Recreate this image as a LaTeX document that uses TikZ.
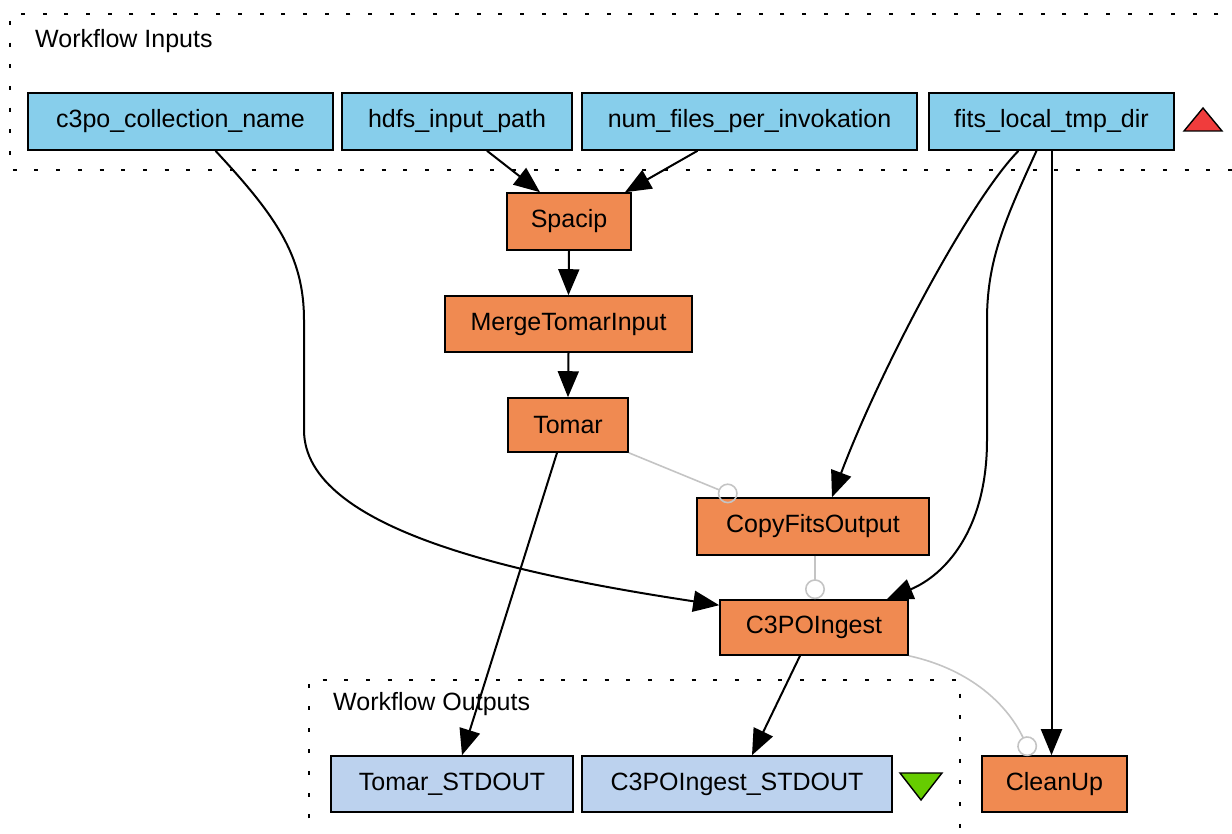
\documentclass[tikz,border=0pt]{standalone}
\usepackage{fontspec}
\setmainfont{Liberation Sans}
\usetikzlibrary{arrows.meta}
\definecolor{inblue}{HTML}{87CEEB}
\definecolor{outblue}{HTML}{BCD2EE}
\definecolor{proc}{HTML}{F08A51}
\definecolor{softgray}{HTML}{C4C4C4}
\definecolor{tri red}{HTML}{F03C3C}
\definecolor{tri green}{HTML}{66CC00}
\begin{document}
\begin{tikzpicture}[x=1pt,y=-1pt,
  font=\fontsize{25}{30}\selectfont,
  box/.style={draw=black,line width=1.6pt,inner sep=0pt,minimum height=57pt},
  inbox/.style={box,fill=inblue},
  outbox/.style={box,fill=outblue},
  procbox/.style={box,fill=proc},
  cluster/.style={line width=2.6pt,dash pattern=on 4pt off 17.7pt},
  flow/.style={line width=2pt,-{Triangle[length=26pt,width=21pt]}},
  ctrl/.style={line width=1.6pt,softgray,-{Circle[open,length=20pt,width=20pt,line width=1.6pt]}},
  lbl/.style={anchor=west,inner sep=0pt}]
\useasboundingbox (0,0) rectangle (1232,834);
% clusters
\draw[cluster] (1240,14) -- (10,14) -- (10,170) -- (1240,170);
\node[lbl] (inlbl) at (35,41) {Workflow Inputs};
\draw[cluster] (309,840) -- (309,680) -- (960,680) -- (960,840);
\node[lbl] (outlbl) at (333,704) {Workflow Outputs};
% inputs
\node[inbox,minimum width=305pt] (c3po) at (180.5,121.5) {c3po\_collection\_name};
\node[inbox,minimum width=230pt] (hdfs) at (457,121.5) {hdfs\_input\_path};
\node[inbox,minimum width=335pt] (num) at (749.5,121.5) {num\_files\_per\_invokation};
\node[inbox,minimum width=245pt] (fits) at (1051.5,121.5) {fits\_local\_tmp\_dir};
\draw[fill=tri red,line width=1.4pt] (1184,131) -- (1222,131) -- (1203,108) -- cycle;
% processes
\node[procbox,minimum width=124pt] (spacip) at (569,221.5) {Spacip};
\node[procbox,minimum width=247pt,minimum height=56pt] (merge) at (568.5,324) {MergeTomarInput};
\node[procbox,minimum width=120pt,minimum height=54pt] (tomar) at (568,425) {Tomar};
\node[procbox,minimum width=232pt] (copy) at (813,526.5) {CopyFitsOutput};
\node[procbox,minimum width=188pt,minimum height=55pt] (c3p) at (814,627.5) {C3POIngest};
\node[procbox,minimum width=145pt,minimum height=56pt] (clean) at (1054.5,784) {CleanUp};
% outputs
\node[outbox,minimum width=242pt,minimum height=56pt] (tout) at (452,784) {Tomar\_STDOUT};
\node[outbox,minimum width=310pt,minimum height=56pt] (cout) at (737,784) {C3POIngest\_STDOUT};
\draw[fill=tri green,line width=1.4pt] (900,773) -- (942,773) -- (921,800) -- cycle;
% connectors
\draw[flow] ([xshift=35pt]c3po.south) .. controls (275,215) and (304,255) .. (304,320) -- (304,430)
   .. controls (304,530) and (520,575) .. ([yshift=-6pt]c3p.north west);
\draw[flow] ([xshift=30pt]hdfs.south) -- ([xshift=-29pt]spacip.north);
\draw[flow] ([xshift=-52pt]num.south) -- ([xshift=56pt]spacip.north);
\draw[flow] (spacip.south) -- (merge.north);
\draw[flow] (merge.south) -- (tomar.north);
\draw[flow] ([xshift=-11pt]tomar.south) -- ([xshift=10pt]tout.north);
\draw[ctrl] (tomar.south east) -- ([xshift=-76pt]copy.north);
\draw[flow] ([xshift=-33pt]fits.south) .. controls (970,200) and (880,370) .. ([xshift=19pt]copy.north);
\draw[flow] ([xshift=-15pt]fits.south) .. controls (1005,220) and (987,260) .. (987,320) -- (987,440)
   .. controls (987,530) and (945,575) .. ([xshift=73pt]c3p.north);
\draw[flow] (fits.south) -- (fits.south |- clean.north);
\draw[ctrl] ([xshift=2pt]copy.south) -- ([xshift=1pt]c3p.north);
\draw[flow] ([xshift=-14pt]c3p.south) -- ([xshift=15pt]cout.north);
\draw[ctrl] (c3p.south east) .. controls (965,668) and (1005,700) .. ([xshift=-23pt]clean.north);
\end{tikzpicture}
\end{document}
